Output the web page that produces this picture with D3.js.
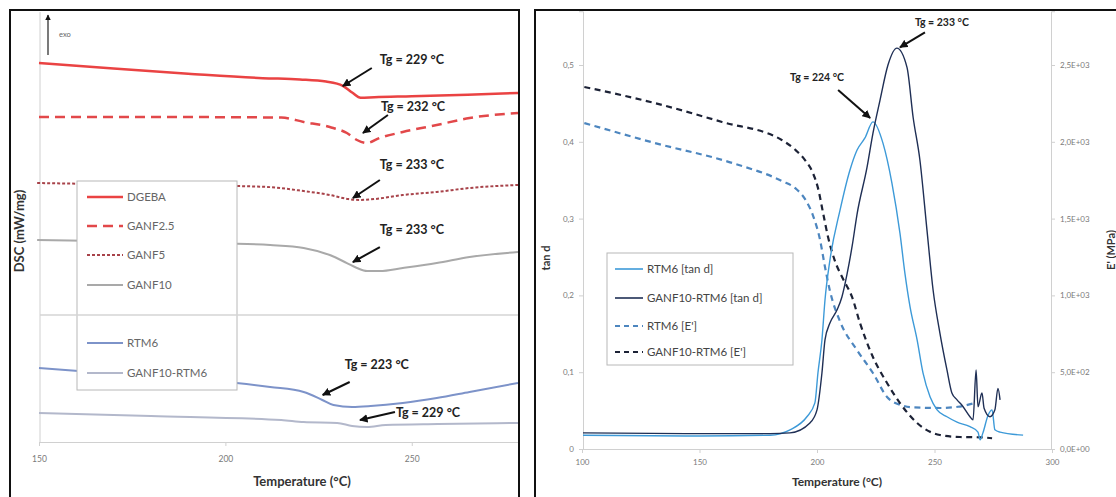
<!DOCTYPE html>
<html><head><meta charset="utf-8">
<script src="https://cdn.jsdelivr.net/npm/d3@7"></script>
<style>
body{margin:0;background:#fff}
svg{display:block}
text{font-family:Lato,"Open Sans","Liberation Sans",sans-serif}
</style>
</head><body>
<svg id="c" width="1116" height="497"></svg>
<script>
// ---------------- DATA: left panel (DSC, stacked curves, arbitrary offsets) ----------------
const dscXTicks = [150, 200, 250];
const dscNames  = ["DGEBA", "GANF2.5", "GANF5", "GANF10", "RTM6", "GANF10-RTM6"];
const dgeba   = [[150,2.984],[170,2.94],[190,2.90],[210,2.865],[220,2.855],[227,2.838],[231.5,2.805],[234,2.752],[236.3,2.71],[240,2.715],[250,2.722],[265,2.735],[278.5,2.748]];
const ganf25  = [[150,2.559],[180,2.559],[215,2.555],[221,2.52],[228,2.48],[232.6,2.433],[235.3,2.378],[237.9,2.354],[241.4,2.394],[247.6,2.441],[256.7,2.496],[265.5,2.551],[278.5,2.591]];
const ganf5   = [[149.5,2.039],[180,2.025],[210,2.01],[221,1.976],[228,1.945],[233,1.913],[236,1.906],[240,1.913],[247.6,1.945],[256.7,1.969],[265.5,2.0],[278.5,2.024]];
const ganf10  = [[149.5,1.591],[180,1.575],[200,1.563],[212,1.551],[221,1.528],[228,1.472],[232.6,1.409],[235.3,1.37],[238,1.346],[241.4,1.346],[247.6,1.37],[256.7,1.409],[265.5,1.457],[278.5,1.496]];
const rtm6    = [[150,0.583],[165,0.55],[185,0.51],[203,0.465],[212,0.433],[221,0.394],[226,0.331],[229,0.291],[234,0.276],[239,0.283],[247.6,0.307],[256.7,0.346],[265.5,0.394],[278.5,0.465]];
const ganf10r = [[150,0.228],[180,0.205],[215,0.173],[221,0.157],[230,0.15],[234,0.126],[238,0.118],[243,0.134],[257,0.142],[278.5,0.15]];
const dscTgLabels = ["Tg = 229 °C","Tg = 232 °C","Tg = 233 °C","Tg = 233 °C","Tg = 223 °C","Tg = 229 °C"];
const dscTgPoints = [[231.5,2.803],[236.9,2.433],[234.2,1.921],[234.2,1.417],[226.1,0.370],[236.1,0.173]];

// ---------------- DATA: right panel (DMA) ----------------
const dmaXTicks = [100, 150, 200, 250, 300];
const tanTicks  = [0, 0.1, 0.2, 0.3, 0.4, 0.5];
const eTicks    = [0, 500, 1000, 1500, 2000, 2500];
const dmaNames  = ["RTM6 [tan d]", "GANF10-RTM6 [tan d]", "RTM6 [E']", "GANF10-RTM6 [E']"];
const rtm6Tan = [[100,0.018],[150,0.017],[180,0.018],[188.5,0.025],[195.7,0.042],[199.1,0.06],[200.4,0.099],[202.1,0.142],[203.4,0.194],[205.5,0.246],[209.8,0.311],[214,0.363],[217,0.389],[220.4,0.405],[223.8,0.426],[228.1,0.398],[231.9,0.346],[235.3,0.281],[237.4,0.229],[239.6,0.185],[242.6,0.142],[245.1,0.099],[248.1,0.068],[251.1,0.051],[255.3,0.042],[259.6,0.035],[265.1,0.029],[268.5,0.022],[269.4,0.012],[270.6,0.021],[272.8,0.044],[274.5,0.051],[275.7,0.025],[277.9,0.022],[287.7,0.018]];
const ganfTan = [[100,0.021],[150,0.02],[180,0.02],[188.5,0.021],[197,0.034],[200,0.051],[202.1,0.099],[203.4,0.142],[205.5,0.164],[208.5,0.181],[210.6,0.198],[212.8,0.228],[215,0.265],[217,0.305],[221.3,0.367],[223.8,0.411],[226.8,0.454],[230.2,0.50],[234,0.522],[238.3,0.497],[240.9,0.432],[243.8,0.376],[246.8,0.285],[249.4,0.207],[252.3,0.151],[255.3,0.103],[257.4,0.073],[259.6,0.064],[261.7,0.057],[265.1,0.042],[266.4,0.038],[267.7,0.103],[268.5,0.055],[270.2,0.073],[271.1,0.053],[273.6,0.042],[275.7,0.051],[277,0.079],[277.9,0.064]];
const rtm6E   = [[101,2122],[131,1992],[164,1862],[185,1745],[191,1695],[195,1625],[198.3,1520],[201.3,1361],[203.4,1185],[205.5,1030],[209.8,830],[217,644],[223.8,495],[229.8,339],[236,285],[240,272],[252.3,267],[260,275],[267.2,300]];
const ganfE   = [[101,2357],[131,2252],[159.6,2129],[185,2012],[190.6,1950],[194.9,1881],[198.3,1795],[200.4,1700],[202.6,1536],[204.7,1380],[207.5,1230],[211,1110],[214.9,990],[218.3,820],[223.8,599],[229.8,430],[235.3,299],[242.6,169],[252.3,91],[260.9,78],[269.4,76],[274.5,70]];
const dmaTgLabels = ["Tg = 224 °C","Tg = 233 °C"];
const dmaTgPoints = [[222.6,0.431],[235.3,0.523]];

// ---------------- DRAWING ----------------
const svg = d3.select("#c");
const defs = svg.append("defs");
defs.append("marker").attr("id","ah").attr("viewBox","0 0 10 10").attr("refX",9).attr("refY",5)
  .attr("markerWidth",4.2).attr("markerHeight",4.2).attr("orient","auto")
  .append("path").attr("d","M0,0L10,5L0,10z").attr("fill","#111");
defs.append("clipPath").attr("id","clipL").append("rect").attr("x",11).attr("y",11).attr("width",507).attr("height",486);
defs.append("clipPath").attr("id","clipR").append("rect").attr("x",583).attr("y",11).attr("width",470).attr("height",440);

const axisCol = "#d0d0d0", tickTxt = "#7a7a7a";

// ===== Left panel =====
const xL = d3.scaleLinear([150, 278.5], [39, 518]);
const yL = d3.scaleLinear([0, 3.4], [442, 442 - 3.4*127]);
const gL = svg.append("g");

const axL = gL.append("g").attr("transform","translate(0,442)")
  .call(d3.axisBottom(xL).tickValues(dscXTicks).tickSize(4).tickPadding(10).tickFormat(d3.format("d")));
axL.select(".domain").attr("stroke",axisCol);
axL.selectAll(".tick line").attr("stroke",axisCol);
axL.selectAll("text").attr("fill",tickTxt).style("font-size","8.5px");
gL.append("line").attr("x1",xL(150)+1).attr("x2",xL(150)+1).attr("y1",12).attr("y2",442).attr("stroke",axisCol);

const lineL = d3.line().x(d=>xL(d[0])).y(d=>yL(d[1])).curve(d3.curveMonotoneX);
const dscStyles = [
  {c:"#ea4343", w:2.5, dash:null},
  {c:"#e2484a", w:2.5, dash:"10,6"},
  {c:"#a8434a", w:2.0, dash:"3,2"},
  {c:"#a9a9a9", w:2.0, dash:null},
  {c:"#7d93c9", w:2.0, dash:null},
  {c:"#b3b8cb", w:2.0, dash:null}
];
const dscData = [dgeba, ganf25, ganf5, ganf10, rtm6, ganf10r];
const cL = gL.append("g").attr("clip-path","url(#clipL)");
dscData.forEach((d,i)=>{
  cL.append("path").datum(d).attr("d",lineL).attr("fill","none")
    .attr("stroke",dscStyles[i].c).attr("stroke-width",dscStyles[i].w)
    .attr("stroke-dasharray",dscStyles[i].dash);
});

// exo arrow
gL.append("line").attr("x1",48).attr("x2",48).attr("y1",55).attr("y2",15)
  .attr("stroke","#333").attr("stroke-width",1.3).attr("marker-end","url(#ah)");
gL.append("text").attr("x",59).attr("y",37).text("exo").attr("fill","#666").style("font-size","7.5px");

// annotations
const dscOff = [[29,-18,37,-26],[25,-18,18,-26],[27,-18,27,-33],[27,-15,27,-32],[27,-13,22,-30],[35,-8,36,-7]];
dscTgPoints.forEach((p,i)=>{
  const x = xL(p[0]), y = yL(p[1]), o = dscOff[i];
  gL.append("line").attr("x1",x+o[0]).attr("y1",y+o[1]).attr("x2",x).attr("y2",y)
    .attr("stroke","#111").attr("stroke-width",2).attr("marker-end","url(#ah)");
  gL.append("text").attr("x",x+o[2]).attr("y",y+o[3]).attr("dy","0.35em").text(dscTgLabels[i])
    .attr("fill","#222").style("font-size","12.5px").style("font-weight","bold");
});

// legend
gL.append("rect").attr("x",77).attr("y",181).attr("width",160).attr("height",209)
  .attr("fill","#fff").attr("stroke","#b8b8b8").attr("stroke-width",1);
const legLY = [197,226,255,285,343,373];
dscNames.forEach((n,i)=>{
  gL.append("line").attr("x1",87).attr("x2",123).attr("y1",legLY[i]).attr("y2",legLY[i])
    .attr("stroke",dscStyles[i].c).attr("stroke-width",dscStyles[i].w).attr("stroke-dasharray",dscStyles[i].dash);
  gL.append("text").attr("x",127).attr("y",legLY[i]).attr("dy","0.35em").text(n)
    .attr("fill","#666").style("font-size","11.5px");
});
// separator line between the two stacked DSC plots
gL.append("line").attr("x1",40).attr("x2",518).attr("y1",315).attr("y2",315).attr("stroke","#d4d4d4").attr("stroke-width",1.5);

// axis titles
gL.append("text").attr("x",302).attr("y",486).attr("text-anchor","middle").text("Temperature (°C)")
  .attr("fill","#333").style("font-size","13px").style("font-weight","bold");
gL.append("text").attr("transform","translate(19,231) rotate(-90)").attr("text-anchor","middle").attr("dy","0.35em")
  .text("DSC (mW/mg)").attr("fill","#333").style("font-size","13px").style("font-weight","bold");

svg.append("rect").attr("x",10).attr("y",10).attr("width",509).attr("height",500).attr("fill","none").attr("stroke","#111").attr("stroke-width",2);

// ===== Right panel =====
const xR = d3.scaleLinear([100, 300], [582, 1052]);
const yR = d3.scaleLinear([0, 0.57], [449, 449 - 0.57*768]);
const yE = d3.scaleLinear([0, 2850], [449, 449 - 0.57*768]);
const gR = svg.append("g");

const comma = d3.formatLocale({decimal:",", thousands:".", grouping:[3], currency:["","€"]});
const fTan = v => v===0 ? "0" : comma.format(".1f")(v);
const fE = v => {
  if (v===0) return "0,0E+00";
  const e = Math.floor(Math.log10(v)), m = v/Math.pow(10,e);
  return m.toFixed(1).replace(".",",") + "E+" + String(e).padStart(2,"0");
};

const axB = gR.append("g").attr("transform","translate(0,449)")
  .call(d3.axisBottom(xR).tickValues(dmaXTicks).tickSize(4).tickPadding(6).tickFormat(d3.format("d")));
const axLft = gR.append("g").attr("transform","translate(583,0)")
  .call(d3.axisLeft(yR).tickValues(tanTicks).tickSize(4).tickPadding(5).tickFormat(fTan));
const axRgt = gR.append("g").attr("transform","translate(1051,0)")
  .call(d3.axisRight(yE).tickValues(eTicks).tickSize(4).tickPadding(5).tickFormat(fE));
[axB,axLft,axRgt].forEach(a=>{
  a.select(".domain").attr("stroke",axisCol);
  a.selectAll(".tick line").attr("stroke",axisCol);
  a.selectAll("text").attr("fill",tickTxt).style("font-size","8px");
});

const lineT = d3.line().x(d=>xR(d[0])).y(d=>yR(d[1])).curve(d3.curveMonotoneX);
const lineE = d3.line().x(d=>xR(d[0])).y(d=>yE(d[1])).curve(d3.curveMonotoneX);
const dmaStyles = [
  {c:"#3d9ad8", w:1.4, dash:null},
  {c:"#1f2f55", w:1.4, dash:null},
  {c:"#4d86bf", w:2.2, dash:"6,4.5"},
  {c:"#1c2236", w:2.2, dash:"6,4.5"}
];
const cR = gR.append("g").attr("clip-path","url(#clipR)");
[[rtm6E,lineE,2],[ganfE,lineE,3],[rtm6Tan,lineT,0],[ganfTan,lineT,1]].forEach(([d,ln,i])=>{
  cR.append("path").datum(d).attr("d",ln).attr("fill","none")
    .attr("stroke",dmaStyles[i].c).attr("stroke-width",dmaStyles[i].w)
    .attr("stroke-dasharray",dmaStyles[i].dash).attr("stroke-linejoin","round");
});

const dmaOff = [[-32,-28,-80,-41],[25,-15,15,-25]];
dmaTgPoints.forEach((p,i)=>{
  const x = xR(p[0]), y = yR(p[1]), o = dmaOff[i];
  gR.append("line").attr("x1",x+o[0]).attr("y1",y+o[1]).attr("x2",x).attr("y2",y)
    .attr("stroke","#111").attr("stroke-width",2).attr("marker-end","url(#ah)");
  gR.append("text").attr("x",x+o[2]).attr("y",y+o[3]).attr("dy","0.35em").text(dmaTgLabels[i])
    .attr("fill","#222").style("font-size","10.5px").style("font-weight","bold");
});

gR.append("rect").attr("x",607).attr("y",253).attr("width",186).attr("height",112)
  .attr("fill","#fff").attr("stroke","#b8b8b8").attr("stroke-width",1);
const legRY = [269,298,326,352];
dmaNames.forEach((n,i)=>{
  gR.append("line").attr("x1",615).attr("x2",643).attr("y1",legRY[i]).attr("y2",legRY[i])
    .attr("stroke",dmaStyles[i].c).attr("stroke-width",i<2?1.6:2).attr("stroke-dasharray",i<2?null:"5,4");
  gR.append("text").attr("x",647).attr("y",legRY[i]).attr("dy","0.35em").text(n)
    .attr("fill","#444").style("font-size","11.5px");
});

gR.append("text").attr("x",837).attr("y",486).attr("text-anchor","middle").text("Temperature (°C)")
  .attr("fill","#333").style("font-size","12px").style("font-weight","bold");
gR.append("text").attr("transform","translate(546,258) rotate(-90)").attr("text-anchor","middle").attr("dy","0.35em")
  .text("tan d").attr("fill","#333").style("font-size","11px").style("font-weight","bold");
gR.append("text").attr("transform","translate(1111,250) rotate(-90)").attr("text-anchor","middle").attr("dy","0.35em")
  .text("E' (MPa)").attr("fill","#333").style("font-size","11px").style("font-weight","bold");

svg.append("rect").attr("x",535).attr("y",10).attr("width",620).attr("height",500).attr("fill","none").attr("stroke","#111").attr("stroke-width",2);
</script>
</body></html>
